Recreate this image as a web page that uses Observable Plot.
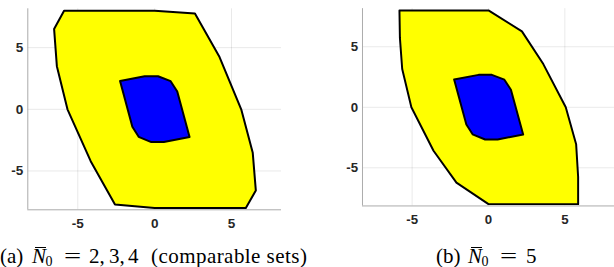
<!DOCTYPE html>
<html><head><meta charset="utf-8">
<script src="https://cdn.jsdelivr.net/npm/d3@7"></script>
<script src="https://cdn.jsdelivr.net/npm/@observablehq/plot@0.6"></script>
<style>
html,body{margin:0;padding:0;background:#fff;}
body{width:614px;height:267px;overflow:hidden;position:relative;}
.panel{position:absolute;top:0;}
.cap{position:absolute;top:246px;left:0;width:614px;height:20px;font-family:"Liberation Serif","Times New Roman",serif;font-size:21px;line-height:20px;color:#000;white-space:nowrap;}
.cap span{position:absolute;top:0;}
.cap .it{font-style:italic;}
.cap .sub{font-size:14px;line-height:10px;top:10.5px;}
.cap .eq{display:inline-block;transform:scaleX(1.45);transform-origin:0 50%;}
.cap .bar{top:1px;height:0;border-top:1.3px solid #000;}
.cap .ls{letter-spacing:0.45px;}
</style></head>
<body>
<div id="pa" class="panel" style="left:0px"></div>
<div id="pb" class="panel" style="left:335px"></div>
<div class="cap">
  <span style="left:0px">(a)</span>
  <span class="bar" style="left:35px;width:11px"></span>
  <span class="it" style="left:32px">N</span>
  <span class="sub" style="left:45.5px">0</span>
  <span class="eq" style="left:64px">=</span>
  <span style="left:89px">2,</span>
  <span style="left:109px">3,</span>
  <span style="left:128px">4</span>
  <span class="ls" style="left:151px">(comparable sets)</span>

  <span style="left:436px">(b)</span>
  <span class="bar" style="left:471px;width:11px"></span>
  <span class="it" style="left:468px">N</span>
  <span class="sub" style="left:481.5px">0</span>
  <span class="eq" style="left:500px">=</span>
  <span style="left:526px">5</span>
</div>
<script>
// Panel (a): outer set
const yellowA_x = [-5.89, 0, 2.62, 4.22, 5.63, 6.38, 6.58, 5.93, 0, -2.58, -4.16, -5.67, -6.36, -6.54];
const yellowA_y = [8, 8, 7.76, 4.24, 0, -3.53, -6.58, -8, -8, -7.72, -4.21, 0, 3.5, 6.52];
// Inner set (both panels)
const blue_x = [-2.25, -0.65, 0.22, 1.04, 1.47, 2.27, 0.6, -0.22, -1.04, -1.45];
const blue_y = [2.3, 2.68, 2.68, 2.28, 1.45, -2.25, -2.66, -2.66, -2.23, -1.42];
// Panel (b): outer set
const yellowB_x = [-5.83, 0, 2.19, 3.59, 5.06, 5.74, 5.87, 5.87, 0, -2.1, -3.6, -5.05, -5.65, -5.8];
const yellowB_y = [8, 8, 6.27, 3.57, 0, -3.06, -5.76, -8, -8, -6.22, -3.59, 0, 3.16, 5.73];
const ticks = [-5, 0, 5];
const tickLabels = ["-5", "0", "5"];
const xDomain = [-8.25, 8.25];
const yDomain = [-8.15, 8.15];

const pts = (xs, ys) => xs.map((x, i) => ({x, y: ys[i]}));
const fmt = (d) => tickLabels[ticks.indexOf(d)];

function panel(outerX, outerY, width, marginLeft) {
  return Plot.plot({
    width, height: 230,
    marginLeft, marginRight: 0, marginTop: 8.3, marginBottom: 20.7,
    style: {fontFamily: "Liberation Sans, Arial, sans-serif", fontSize: "13.5px", fontWeight: "bold", color: "#262626", background: "#fff"},
    x: {domain: xDomain, ticks, tickFormat: fmt, label: null},
    y: {domain: yDomain, ticks, tickFormat: fmt, label: null},
    marks: [
      Plot.gridX(ticks, {stroke: "#000", strokeOpacity: 0.09}),
      Plot.gridY(ticks, {stroke: "#000", strokeOpacity: 0.09}),
      Plot.line(pts(outerX, outerY), {x: "x", y: "y", curve: "linear-closed", fill: "#ffff00", stroke: "#000", strokeWidth: 2}),
      Plot.line(pts(blue_x, blue_y), {x: "x", y: "y", curve: "linear-closed", fill: "#0000ff", stroke: "#000", strokeWidth: 2}),
      Plot.ruleX([xDomain[0]], {stroke: "#aaa", strokeWidth: 1}),
      Plot.ruleY([yDomain[0]], {stroke: "#aaa", strokeWidth: 1}),
      Plot.axisX({ticks, tickSize: 0, tickPadding: 8.5, tickFormat: fmt, label: null}),
      Plot.axisY({ticks, tickSize: 0, tickPadding: 4.5, tickFormat: fmt, label: null})
    ]
  });
}

document.getElementById("pa").appendChild(panel(yellowA_x, yellowA_y, 281, 27.3));
document.getElementById("pb").appendChild(panel(yellowB_x, yellowB_y, 284.2, 27.5));
</script>
</body></html>
